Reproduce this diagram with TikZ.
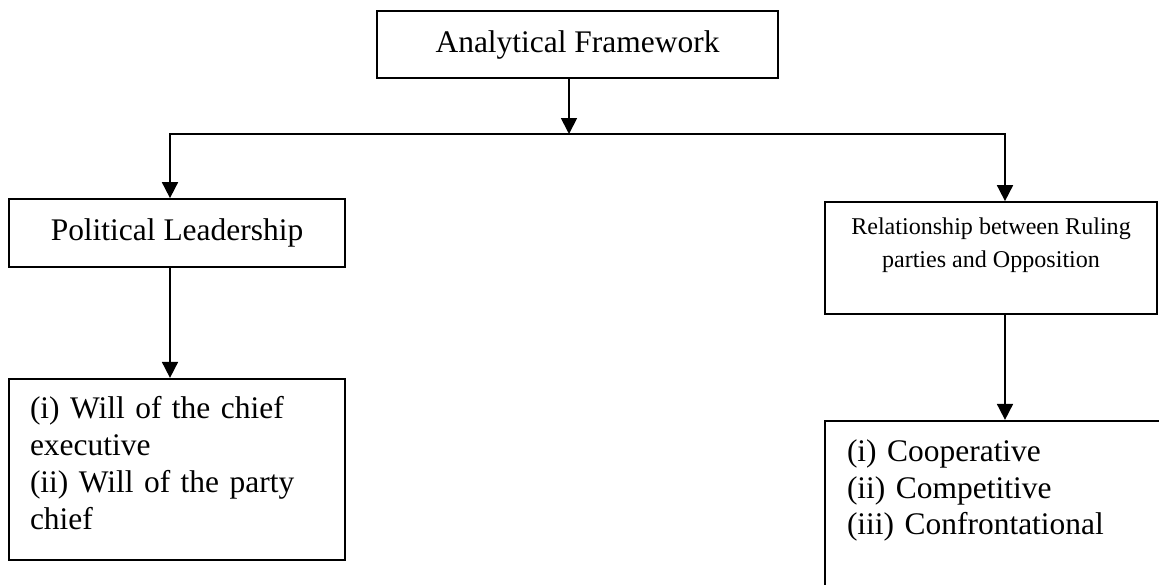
\documentclass[tikz,border=0pt]{standalone}
\usepackage{fontspec}
\setmainfont{Liberation Serif}
\usetikzlibrary{positioning,arrows.meta}

\begin{document}
\begin{tikzpicture}[
    block/.style={draw, line width=1pt, inner sep=0pt, font=\fontsize{17.9}{21}\selectfont},
    arr/.style={line width=1pt, -{Triangle[length=0.32cm,width=0.32cm]}}
  ]
      \useasboundingbox (0,0) rectangle (23.18,-11.68);
      \clip (0,0) rectangle (23.18,-11.68);
      % Define nodes
      \node[block, minimum width=8.02cm, minimum height=1.34cm] (fw) at (11.55,-0.89) {Analytical Framework};
      \node[block, minimum width=6.72cm, minimum height=1.36cm] (pl) at (3.54,-4.66) {Political Leadership};
      \node[block, minimum width=6.64cm, minimum height=2.24cm, align=center,
            font=\fontsize{13.7}{18.8}\selectfont] (rel) at (19.82,-5.16)
            {Relationship between Ruling\\parties and Opposition\rule[-0.62cm]{0pt}{0pt}};
      \node[block, below=2.2cm of pl, minimum width=6.72cm, minimum height=3.62cm,
            text width=5.88cm, align=left] (lb)
            {(i) Will of the chief\\executive\\(ii) Will of the party\\chief\rule[-0.24cm]{0pt}{0pt}};
      \node[block, below=2.1cm of rel.south west, anchor=north west, inner xsep=0.44cm,
            inner ysep=0.37cm, text width=6.5cm, align=left] (rb)
            {(i) Cooperative\\(ii) Competitive\\(iii) Confrontational\\\strut\\\strut};
      \coordinate (j) at (11.38,-2.68);
      \coordinate (jl) at (3.40,-2.68);
      \coordinate (jr) at (20.10,-2.68);
      % Connect nodes
      \draw[arr] (fw.south -| j) -- (j);
      \draw[arr] (j) -| (jl |- pl.north);
      \draw[arr] (j) -| (jr |- rel.north);
      \draw[arr] (jl |- pl.south) -- (jl |- lb.north);
      \draw[arr] (jr |- rel.south) -- (jr |- rb.north);
\end{tikzpicture}
\end{document}
